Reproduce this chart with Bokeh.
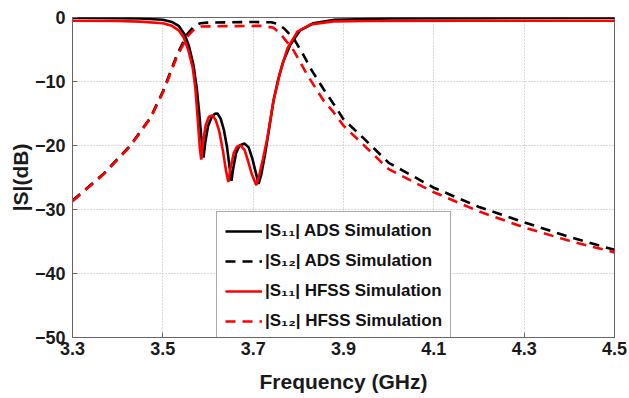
from bokeh.plotting import figure
from bokeh.models import Legend, LegendItem, FixedTicker
from bokeh.embed import file_html
from bokeh.resources import INLINE

# ---- data ----
freq_s11_ads = [3.30, 3.40, 3.45, 3.50, 3.52, 3.535, 3.548, 3.558, 3.568, 3.575, 3.580, 3.585, 3.590,
                3.594, 3.600, 3.608, 3.615, 3.621, 3.628, 3.635, 3.642, 3.648, 3.652, 3.656, 3.662,
                3.670, 3.681, 3.690, 3.698, 3.705, 3.712, 3.718, 3.726, 3.735, 3.745, 3.755, 3.766,
                3.782, 3.804, 3.833, 3.880, 4.000, 4.200, 4.500]
s11_ads = [-0.05, -0.1, -0.15, -0.35, -0.7, -1.3, -2.6, -4.5, -7.5, -11.0, -14.5, -18.5, -21.9,
           -19.5, -17.0, -15.6, -15.05, -15.0, -15.8, -17.5, -20.2, -23.5, -25.5, -23.5, -21.2,
           -20.0, -19.7, -20.3, -22.0, -24.0, -26.0, -24.5, -21.5, -17.5, -13.0, -9.8, -7.0,
           -4.3, -2.0, -0.9, -0.35, -0.15, -0.1, -0.05]

freq_s11_hfss = [3.30, 3.40, 3.45, 3.50, 3.52, 3.535, 3.546, 3.556, 3.566, 3.572, 3.577, 3.582, 3.585,
                 3.589, 3.595, 3.602, 3.610, 3.617, 3.625, 3.633, 3.640, 3.645, 3.650, 3.657, 3.664,
                 3.672, 3.681, 3.689, 3.697, 3.707, 3.713, 3.722, 3.731, 3.745, 3.760, 3.776, 3.798,
                 3.827, 3.878, 3.950, 4.200, 4.500]
s11_hfss = [-0.5, -0.55, -0.65, -0.9, -1.3, -2.0, -3.1, -5.0, -7.8, -11.0, -15.6, -20.5, -22.2,
            -19.5, -16.8, -15.5, -15.3, -16.0, -17.8, -20.8, -24.0, -25.7, -23.5, -21.2, -20.2,
            -20.0, -20.7, -22.5, -24.5, -26.2, -24.8, -22.0, -19.0, -13.0, -8.5, -4.8, -2.2,
            -1.1, -0.6, -0.55, -0.5, -0.5]

freq_s12_ads = [3.30, 3.369, 3.428, 3.473, 3.501, 3.532, 3.555, 3.570, 3.583, 3.600, 3.650, 3.700,
                3.740, 3.755, 3.770, 3.790, 3.810, 3.830, 3.856, 3.878, 3.900, 3.942, 4.000, 4.100,
                4.200, 4.300, 4.400, 4.500]
s12_ads = [-28.6, -24.4, -20.0, -15.6, -11.4, -5.7, -2.5, -1.3, -0.9, -0.8, -0.75, -0.7,
           -0.75, -1.0, -1.8, -3.3, -5.7, -8.3, -11.2, -13.5, -15.9, -18.7, -22.7, -26.6,
           -29.6, -32.0, -34.3, -36.3]

freq_s12_hfss = [3.30, 3.369, 3.428, 3.473, 3.501, 3.532, 3.555, 3.570, 3.585, 3.650, 3.720, 3.745,
                 3.760, 3.790, 3.820, 3.856, 3.878, 3.900, 3.950, 4.000, 4.100, 4.200, 4.300,
                 4.400, 4.500]
s12_hfss = [-28.7, -24.5, -20.1, -15.7, -11.6, -6.0, -2.9, -1.8, -1.4, -1.35, -1.3, -1.6,
            -2.5, -5.2, -9.0, -13.0, -14.8, -16.9, -20.3, -23.7, -27.3, -30.3, -32.8,
            -34.9, -36.7]

x_ticks = [3.3, 3.5, 3.7, 3.9, 4.1, 4.3, 4.5]
y_ticks = [-50, -40, -30, -20, -10, 0]
labels = ["|S\u2081\u2081| ADS Simulation", "|S\u2081\u2082| ADS Simulation",
          "|S\u2081\u2081| HFSS Simulation", "|S\u2081\u2082| HFSS Simulation"]

FONT = "Liberation Sans"

p = figure(width=629, height=398, x_range=(3.3, 4.5), y_range=(-50, 0),
           output_backend="svg", toolbar_location=None,
           min_border_left=72, min_border_right=15, min_border_top=17, min_border_bottom=61)
p.background_fill_color = "white"
p.border_fill_color = "white"
p.outline_line_color = "#666666"
p.outline_line_width = 1

r1 = p.line(freq_s11_ads, s11_ads, line_color="black", line_width=2.6)
r2 = p.line(freq_s12_ads, s12_ads, line_color="black", line_width=2.6, line_dash="10 7")
r3 = p.line(freq_s11_hfss, s11_hfss, line_color="#ff0000", line_width=2.6)
r4 = p.line(freq_s12_hfss, s12_hfss, line_color="#ff0000", line_width=2.6, line_dash="10 7")

p.xaxis.ticker = FixedTicker(ticks=x_ticks)
p.yaxis.ticker = FixedTicker(ticks=y_ticks)
for ax in (p.xaxis[0], p.yaxis[0]):
    ax.major_label_text_font = FONT
    ax.major_label_text_font_style = "bold"
    ax.major_label_text_font_size = "18px"
    ax.major_label_text_color = "#1a1a1a"
    ax.axis_label_text_font = FONT
    ax.axis_label_text_font_style = "bold"
    ax.axis_label_text_font_size = "21px"
    ax.axis_label_text_color = "#1a1a1a"
    ax.axis_line_color = "#666666"
    ax.major_tick_line_color = "#666666"
    ax.major_tick_in = 5
    ax.major_tick_out = 0
    ax.minor_tick_line_color = None
p.xaxis.axis_label = "Frequency (GHz)"
p.yaxis.axis_label = "|S|(dB)"
p.xaxis.major_label_standoff = 4
p.yaxis.major_label_standoff = 7
p.xaxis.axis_label_standoff = 12
p.yaxis.axis_label_standoff = 0

p.grid.grid_line_color = "#b5b5b5"
p.grid.grid_line_dash = "1 2"
p.grid.grid_line_width = 1

legend = Legend(items=[LegendItem(label=labels[0], renderers=[r1]),
                       LegendItem(label=labels[1], renderers=[r2]),
                       LegendItem(label=labels[2], renderers=[r3]),
                       LegendItem(label=labels[3], renderers=[r4])],
                location=(144, -4))
legend.label_text_font = FONT
legend.label_text_font_style = "bold"
legend.label_text_font_size = "17px"
legend.label_text_color = "#111111"
legend.glyph_width = 37
legend.glyph_height = 22
legend.label_height = 22
legend.label_standoff = 3
legend.spacing = 8
legend.padding = 8
legend.margin = 0
legend.border_line_color = "#555555"
legend.border_line_width = 1
legend.background_fill_color = "white"
legend.background_fill_alpha = 1.0
p.add_layout(legend, "center")

open("out.html", "w").write(file_html(p, INLINE))
